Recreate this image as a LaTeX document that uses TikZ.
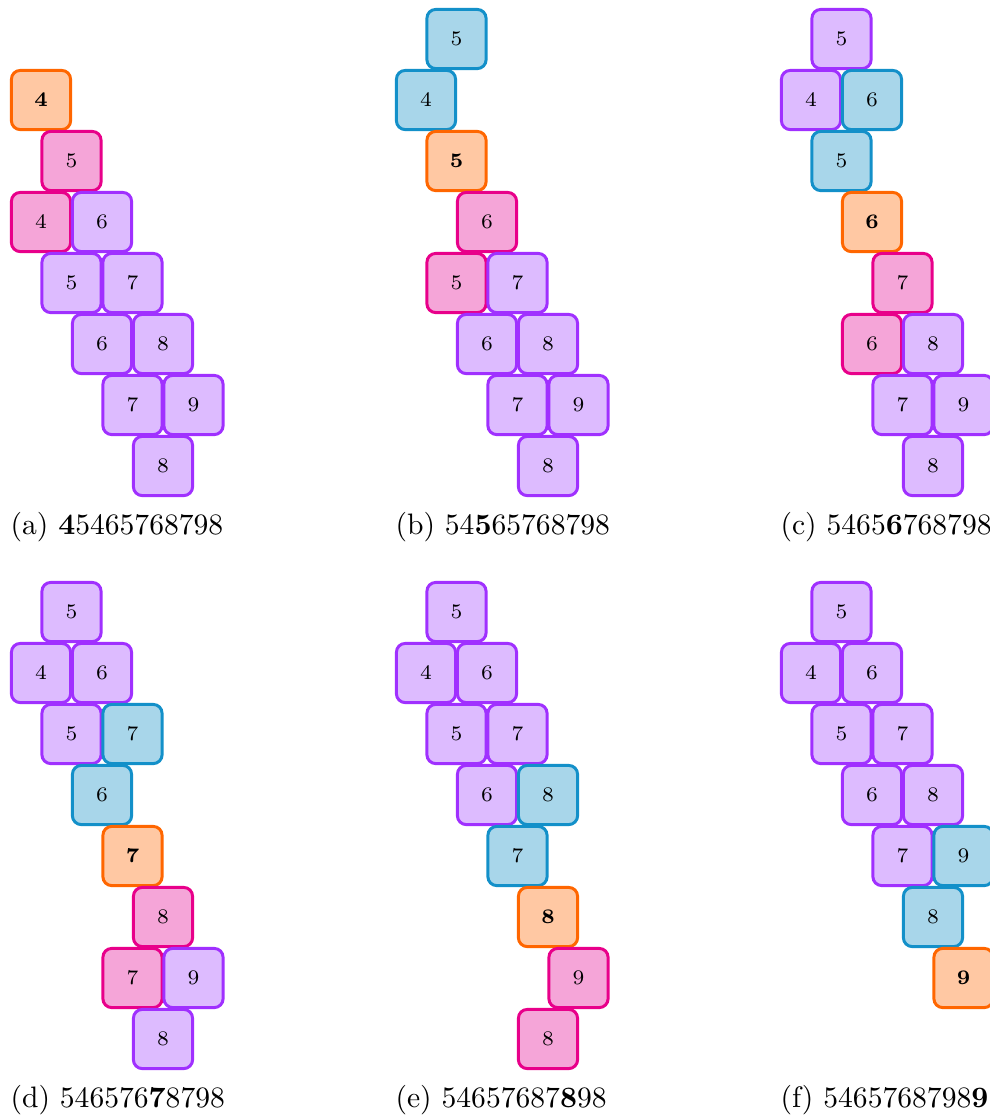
\documentclass[tikz,border=0pt]{standalone}
\usetikzlibrary{positioning}
\definecolor{oFill}{HTML}{FFC8A3}
\definecolor{oLine}{HTML}{FF6600}
\definecolor{pFill}{HTML}{F5A5D8}
\definecolor{pLine}{HTML}{E8008A}
\definecolor{uFill}{HTML}{DDBBFF}
\definecolor{uLine}{HTML}{A030FF}
\definecolor{bFill}{HTML}{A8D6EA}
\definecolor{bLine}{HTML}{1390C9}
\tikzset{
  cell/.style={rectangle, rounded corners=3pt, line width=1pt,
    minimum width=20pt, minimum height=20pt, inner sep=0pt, font=\scriptsize},
  boxO/.style={cell, draw=oLine, fill=oFill, font=\scriptsize\bfseries},
  boxP/.style={cell, draw=pLine, fill=pFill},
  boxU/.style={cell, draw=uLine, fill=uFill},
  boxB/.style={cell, draw=bLine, fill=bFill},
  capt/.style={anchor=west, inner sep=0pt, font=\normalsize}
}
\newcommand\drawpanel[4]{%
  \foreach \c/\r/\s/\l [count=\i] in {#4} {
    \node[box\s] (#1-\i) at ({#2+41+30.5*\c},{#3+39+61*\r}) {\l};
  }%
}
\begin{document}
\begin{tikzpicture}[x=0.33784pt, y=-0.33784pt]
\useasboundingbox (0,0) rectangle (990,1116);
\drawpanel{a}{0}{0}{0/1/O/4, 1/2/P/5, 0/3/P/4, 2/3/U/6, 1/4/U/5, 3/4/U/7, 2/5/U/6, 4/5/U/8, 3/6/U/7, 5/6/U/9, 4/7/U/8}
\drawpanel{b}{385}{0}{1/0/B/5, 0/1/B/4, 1/2/O/5, 2/3/P/6, 1/4/P/5, 3/4/U/7, 2/5/U/6, 4/5/U/8, 3/6/U/7, 5/6/U/9, 4/7/U/8}
\drawpanel{c}{770}{0}{1/0/U/5, 0/1/U/4, 2/1/B/6, 1/2/B/5, 2/3/O/6, 3/4/P/7, 2/5/P/6, 4/5/U/8, 3/6/U/7, 5/6/U/9, 4/7/U/8}
\drawpanel{d}{0}{573}{1/0/U/5, 0/1/U/4, 2/1/U/6, 1/2/U/5, 3/2/B/7, 2/3/B/6, 3/4/O/7, 4/5/P/8, 3/6/P/7, 5/6/U/9, 4/7/U/8}
\drawpanel{e}{385}{573}{1/0/U/5, 0/1/U/4, 2/1/U/6, 1/2/U/5, 3/2/U/7, 2/3/U/6, 4/3/B/8, 3/4/B/7, 4/5/O/8, 5/6/P/9, 4/7/P/8}
\drawpanel{f}{770}{573}{1/0/U/5, 0/1/U/4, 2/1/U/6, 1/2/U/5, 3/2/U/7, 2/3/U/6, 4/3/U/8, 3/4/U/7, 5/4/B/9, 4/5/B/8, 5/6/O/9}
\node[capt] (capa) at (10,527) {(a) \textbf{4}5465768798};
\node[capt] (capb) at (395,527) {(b) 54\textbf{5}65768798};
\node[capt] (capc) at (780,527) {(c) 5465\textbf{6}768798};
\node[capt] (capd) at (10,1100) {(d) 546576\textbf{7}8798};
\node[capt] (cape) at (395,1100) {(e) 54657687\textbf{8}98};
\node[capt] (capf) at (780,1100) {(f) 5465768798\textbf{9}};
\end{tikzpicture}
\end{document}
